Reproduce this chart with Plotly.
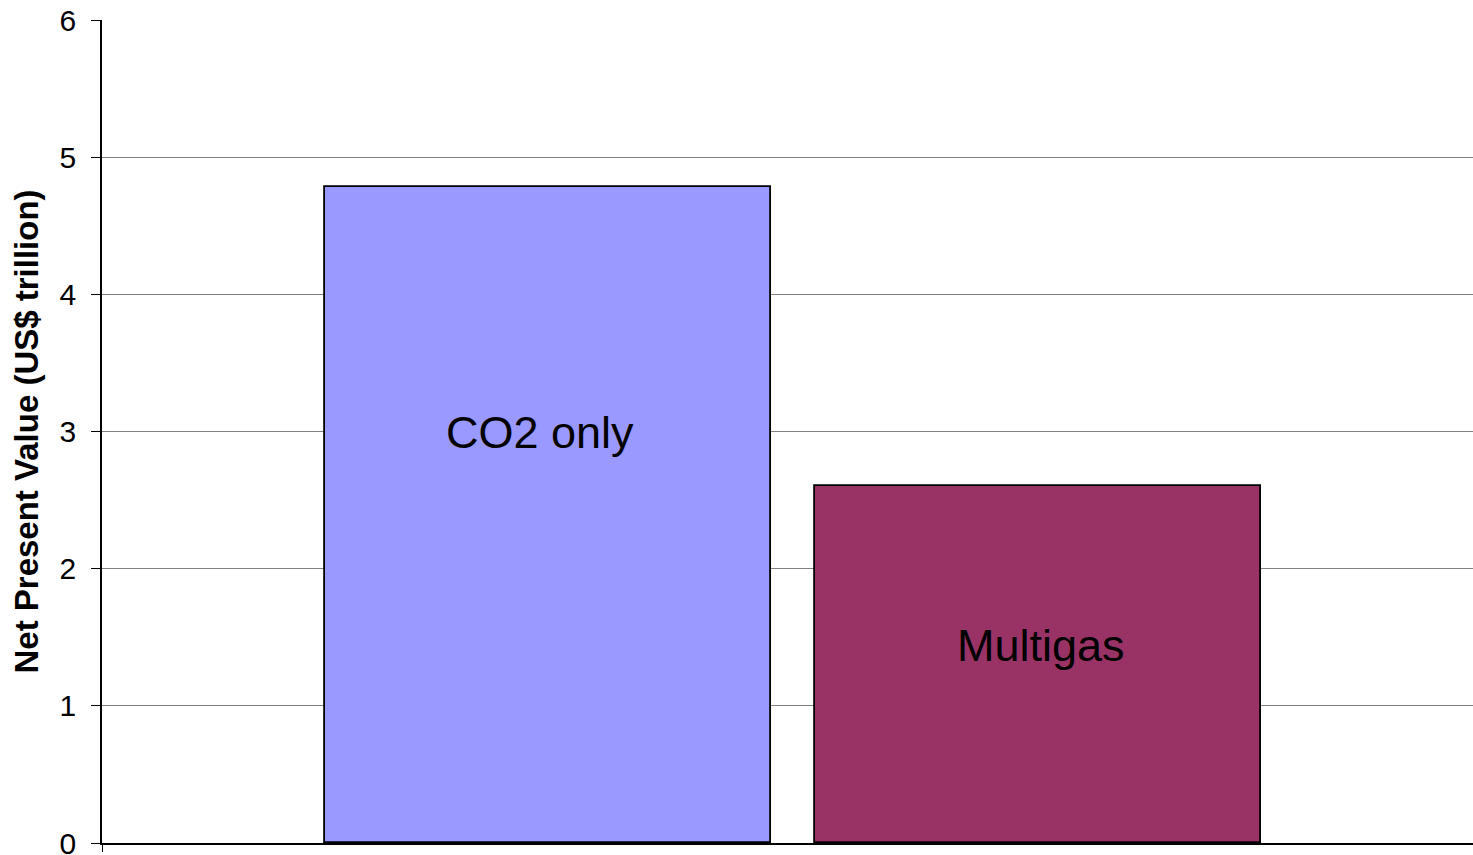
import plotly.graph_objects as go

categories = ["CO2 only", "Multigas"]
values = [4.78, 2.60]
colors = ["#9999FF", "#993366"]
y_ticks = [0, 1, 2, 3, 4, 5, 6]

FONT = "Liberation Sans, Arial, sans-serif"

fig = go.Figure()
fig.add_trace(go.Bar(
    x=list(range(len(categories))),
    y=values,
    width=0.91,
    marker=dict(color=colors, line=dict(color="black", width=1.8)),
    showlegend=False,
    hoverinfo="y",
))

label_frac = [0.626, 0.553]
label_shift = [-8, 3]
for i, cat in enumerate(categories):
    fig.add_annotation(
        x=i, y=values[i] * label_frac[i], text=cat, showarrow=False,
        xshift=label_shift[i],
        font=dict(family=FONT, size=45, color="black"),
    )

fig.update_layout(
    width=1473, height=855,
    margin=dict(l=102, r=0, t=20, b=12),
    paper_bgcolor="white", plot_bgcolor="white",
    font=dict(family=FONT, color="black"),
    bargap=0,
)
fig.update_xaxes(
    range=[-0.910, 1.888],
    showgrid=False, zeroline=False,
    showline=True, linecolor="black", linewidth=1.5,
    tickmode="array", tickvals=[-0.9095], ticks="outside", ticklen=7,
    tickcolor="black", showticklabels=False,
)
fig.update_yaxes(
    range=[0, 6], tickvals=y_ticks,
    showgrid=True, gridcolor="#808080", gridwidth=1,
    zeroline=False,
    showline=True, linecolor="black", linewidth=1.5,
    ticks="outside", ticklen=9, tickcolor="black",
    tickfont=dict(family=FONT, size=30, color="black"),
    ticklabelstandoff=9,
    ticklabeloverflow="allow",
    title=dict(text="<b>Net Present Value (US$ trillion)</b>",
               font=dict(family=FONT, size=33, color="black"), standoff=11),
    automargin=False,
)

fig.write_html(
    "out.html",
    config={"displayModeBar": False},
    post_script="document.body.style.margin='0';document.body.style.overflow='hidden';",
)
